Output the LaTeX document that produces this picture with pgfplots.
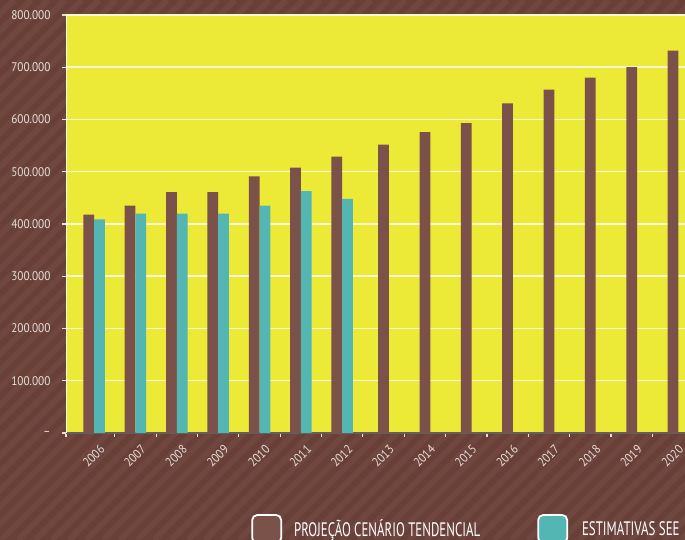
\documentclass[border=0pt]{standalone}
\usepackage{pgfplots}
\pgfplotsset{compat=1.18}
\usepackage{fontspec}
\setmainfont{PT Sans}
\newfontfamily\tickfont{PT Sans}[FakeStretch=0.9]
\newfontfamily\legfont{PT Sans}[FakeStretch=0.66]

\definecolor{bgbrown}{RGB}{104,64,56}
\definecolor{bgstripe}{RGB}{111,71,63}
\definecolor{plotyellow}{RGB}{237,234,55}
\definecolor{barbrown}{RGB}{123,82,73}
\definecolor{barteal}{RGB}{83,182,178}
\definecolor{gridcol}{RGB}{249,247,212}
\definecolor{labelcol}{RGB}{232,222,217}
\definecolor{xaxiscol}{RGB}{100,95,92}

\begin{document}
\begin{tikzpicture}[x=1bp,y=1bp]
  \useasboundingbox (0,0) rectangle (685,540);
  \clip (0,0) rectangle (685,540);
  % striped brown background
  \fill[bgbrown] (0,0) rectangle (685,540);
  \foreach \i in {-560,-543,...,700}
    \draw[bgstripe, line width=6bp] (\i,0) -- ({\i+540},540);

  \begin{axis}[
    at={(66bp,107bp)}, anchor=south west,
    scale only axis,
    width=619bp, height=418bp,
    xmin=-0.68, xmax=14.29,
    ymin=0, ymax=800000,
    axis background/.style={fill=plotyellow},
    axis x line=bottom, axis y line=left,
    x axis line style={-, draw=xaxiscol, line width=1.2bp},
    y axis line style={-, draw=white, line width=1bp},
    ymajorgrids,
    grid style={draw=gridcol, line width=1.5bp},
    ytick={0,100000,...,800000},
    yticklabels={–,100.000,200.000,300.000,400.000,500.000,600.000,700.000,800.000},
    scaled y ticks=false,
    xtick={0,...,14},
    xticklabels={2006,2007,2008,2009,2010,2011,2012,2013,2014,2015,2016,2017,2018,2019,2020},
    minor xtick={-0.68,0.5,1.5,...,13.5},
    tick align=outside,
    major tick length=4bp,
    minor tick length=4bp,
    major x tick style={draw=none},
    minor x tick style={draw=labelcol, line width=1.2bp},
    major y tick style={draw=labelcol, line width=1.2bp},
    tick label style={text=labelcol, font=\tickfont\fontsize{12.5bp}{14bp}\selectfont},
    yticklabel style={anchor=east, xshift=-8bp},
    xticklabel style={rotate=45, anchor=north east, xshift=2bp, yshift=-5bp},
    legend style={
      at={(0.299,-0.2297)}, anchor=west,
      draw=none, fill=none, inner sep=0pt,
      text=white,
      font=\legfont\fontsize{19.5bp}{22bp}\selectfont,
      legend columns=2,
      /tikz/every even column/.append style={column sep=57bp},
      nodes={inner sep=0pt, anchor=west},
    },
    legend image code/.code={
      \draw[draw=white, line width=1.8bp, rounded corners=5bp]
        (0bp,-14bp) rectangle (29bp,14bp);
    },
    legend cell align=left,
  ]
    % projecao cenario tendencial, years with both series
    \addplot[ybar, bar width=0.26, bar shift=-0.13, fill=barbrown, draw=none]
      coordinates {(0,418000) (1,435000) (2,461000) (3,461000) (4,491000) (5,508000) (6,529000)};
    \addlegendentry{\hspace{12bp}PROJEÇÃO CENÁRIO TENDENCIAL}
    % estimativas SEE
    \addplot[ybar, bar width=0.26, bar shift=0.13, fill=barteal, draw=none]
      coordinates {(0,409000) (1,420000) (2,420000) (3,420000) (4,435000) (5,463000) (6,448000)};
    \addlegendentry{\hspace{14bp}ESTIMATIVAS SEE}
    % projecao only, centred in the category
    \addplot[ybar, bar width=0.26, bar shift=0, fill=barbrown, draw=none, forget plot]
      coordinates {(7,552000) (8,576000) (9,593000) (10,631000) (11,657000) (12,680000) (13,700000) (14,732000)};
  \end{axis}
\end{tikzpicture}
\end{document}
